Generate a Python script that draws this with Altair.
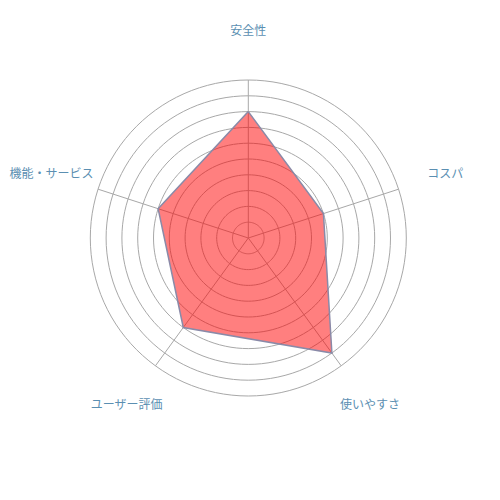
import altair as alt
import pandas as pd
import numpy as np

# ---- data ----
categories = ["安全性", "コスパ", "使いやすさ", "ユーザー評価", "機能・サービス"]
values = [8, 5, 9, 7, 6]
max_value = 10
ring_levels = list(range(1, 11))
label_radius = 13.1

n = len(categories)
angles = [i * 360.0 / n for i in range(n)]

W, H = 484, 484
unit = 15.8
cx, cy = 240.3, 230.0
xdom = [-cx / unit, (W - cx) / unit]
ydom = [-(H - cy) / unit, cy / unit]
xs = alt.Scale(domain=xdom, nice=False, zero=False)
ys = alt.Scale(domain=ydom, nice=False, zero=False)
X = lambda f: alt.X(f, type="quantitative", scale=xs, axis=None)
Y = lambda f: alt.Y(f, type="quantitative", scale=ys, axis=None)

# rings (grid geometry)
deg = list(range(0, 361, 3))
ring_df = pd.DataFrame([(r, d) for r in ring_levels for d in deg], columns=["r", "deg"])
rings = alt.Chart(ring_df).mark_line(color="#a8a8a8", strokeWidth=1).transform_calculate(
    x="datum.r*sin(datum.deg*PI/180)", y="datum.r*cos(datum.deg*PI/180)"
).encode(x=X("x"), y=Y("y"), detail="r:N", order="deg:Q")

# spokes
spoke_df = pd.DataFrame({"cat": categories, "deg": angles})
spokes = alt.Chart(spoke_df).mark_rule(color="#a8a8a8", strokeWidth=1).transform_calculate(
    x0="0", y0="0",
    x1=f"{max_value}*sin(datum.deg*PI/180)", y1=f"{max_value}*cos(datum.deg*PI/180)",
).encode(x=X("x0"), y=Y("y0"), x2="x1:Q", y2="y1:Q")

# data polygon
poly_df = pd.DataFrame({"cat": categories, "value": values, "deg": angles, "ord": list(range(n))})
poly_df = pd.concat([poly_df, poly_df.iloc[[0]].assign(ord=n)], ignore_index=True)
poly = alt.Chart(poly_df).mark_line(
    fill="red", fillOpacity=0.5, stroke="#8a8aa8", strokeWidth=1.5, strokeJoin="miter"
).transform_calculate(
    x="datum.value*sin(datum.deg*PI/180)", y="datum.value*cos(datum.deg*PI/180)"
).encode(x=X("x"), y=Y("y"), order="ord:Q")

# labels
lab_df = pd.DataFrame({"cat": categories, "deg": angles})
labels = alt.Chart(lab_df).mark_text(
    font="Noto Sans CJK JP", fontSize=12, color="#5b8fb2", align="center", baseline="middle"
).transform_calculate(
    x=f"{label_radius}*sin(datum.deg*PI/180)", y=f"{label_radius}*cos(datum.deg*PI/180)"
).encode(x=X("x"), y=Y("y"), text="cat:N")

chart = alt.layer(rings, spokes, poly, labels).properties(
    width=W, height=H, padding=0
).configure_view(stroke=None)

chart.save("out.html", embed_options={"renderer": "svg", "actions": False})
